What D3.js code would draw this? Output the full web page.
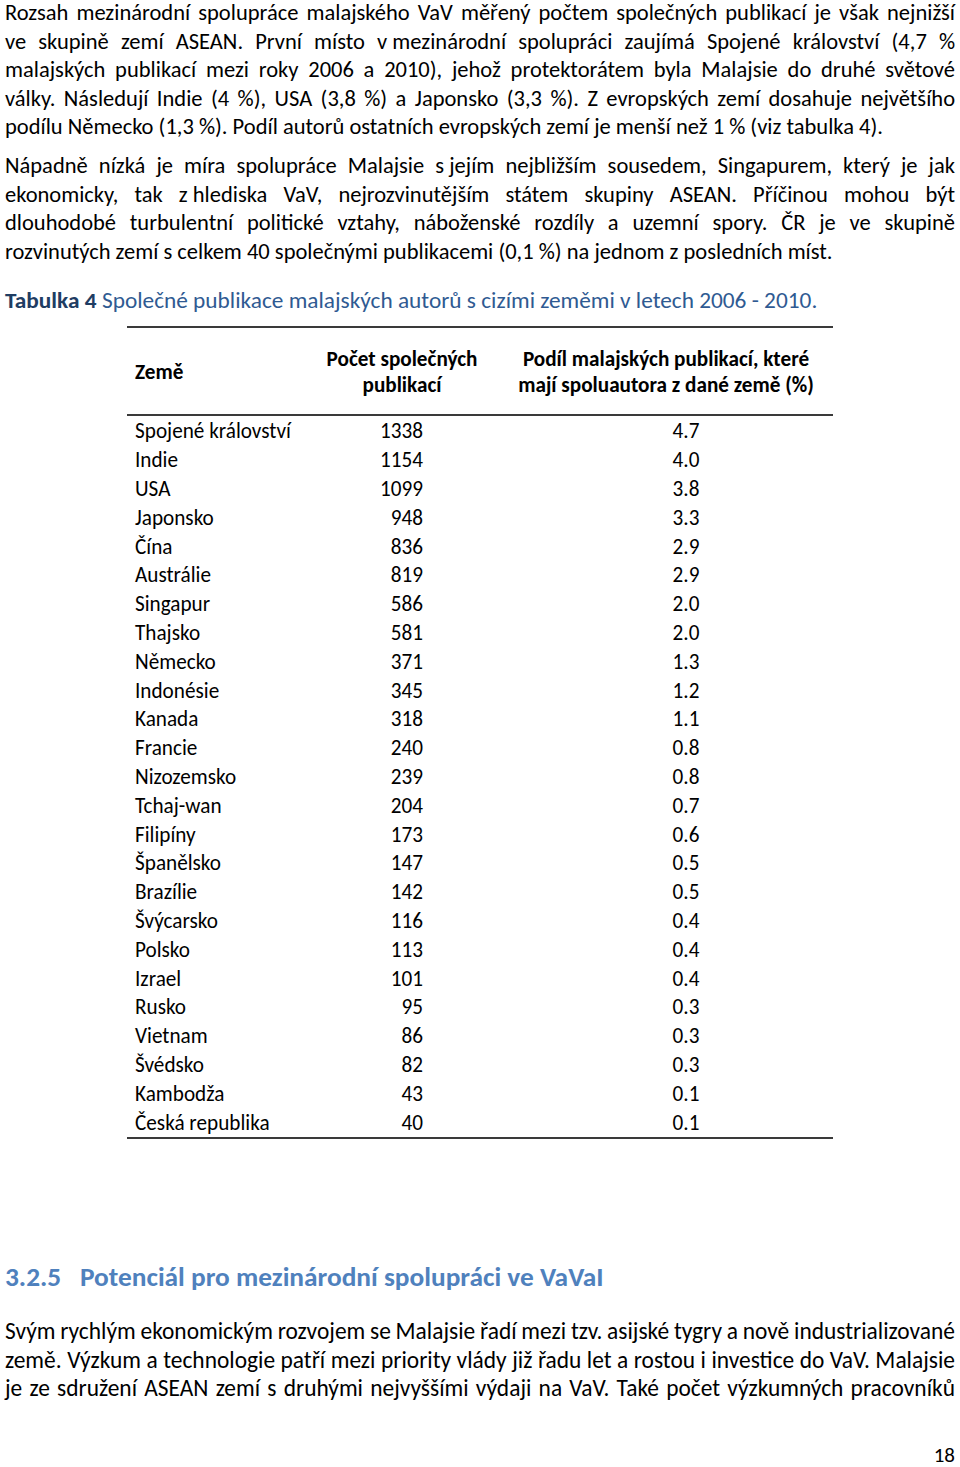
<!DOCTYPE html>
<html>
<head>
<meta charset="utf-8">
<script src="https://cdn.jsdelivr.net/npm/d3@7"></script>
<style>
  html, body { margin: 0; padding: 0; background: #fff; }
  svg { display: block; }
</style>
</head>
<body>
<script>
// ---------------- DATA ----------------
const countries = ["Spojené království","Indie","USA","Japonsko","Čína","Austrálie","Singapur","Thajsko","Německo","Indonésie","Kanada","Francie","Nizozemsko","Tchaj-wan","Filipíny","Španělsko","Brazílie","Švýcarsko","Polsko","Izrael","Rusko","Vietnam","Švédsko","Kambodža","Česká republika"];
const counts = [1338,1154,1099,948,836,819,586,581,371,345,318,240,239,204,173,147,142,116,113,101,95,86,82,43,40];
const shares = [4.7,4.0,3.8,3.3,2.9,2.9,2.0,2.0,1.3,1.2,1.1,0.8,0.8,0.7,0.6,0.5,0.5,0.4,0.4,0.4,0.3,0.3,0.3,0.1,0.1];
const headerCountry = ["Země"];
const headerCount = ["Počet společných","publikací"];
const headerShare = ["Podíl malajských publikací, které","mají spoluautora z dané země (%)"];

const para1 = [
  "Rozsah mezinárodní spolupráce malajského VaV měřený počtem společných publikací je však nejnižší",
  "ve skupině zemí ASEAN. První místo v\u00a0mezinárodní spolupráci zaujímá Spojené království (4,7 %",
  "malajských publikací mezi roky 2006 a 2010), jehož protektorátem byla Malajsie do druhé světové",
  "války. Následují Indie (4 %), USA (3,8 %) a Japonsko (3,3 %). Z evropských zemí dosahuje největšího",
  "podílu Německo (1,3\u00a0%). Podíl autorů ostatních evropských zemí je menší než 1\u00a0% (viz tabulka 4)."
];
const para2 = [
  "Nápadně nízká je míra spolupráce Malajsie s\u00a0jejím nejbližším sousedem, Singapurem, který je jak",
  "ekonomicky, tak z\u00a0hlediska VaV, nejrozvinutějším státem skupiny ASEAN. Příčinou mohou být",
  "dlouhodobé turbulentní politické vztahy, náboženské rozdíly a uzemní spory. ČR je ve skupině",
  "rozvinutých zemí s\u00a0celkem 40 společnými publikacemi (0,1\u00a0%) na jednom z\u00a0posledních míst."
];
const captionLabel = "Tabulka 4";
const captionText = "Společné publikace malajských autorů s cizími zeměmi v letech 2006 - 2010.";
const headingNum = "3.2.5";
const headingText = "Potenciál pro mezinárodní spolupráci ve VaVaI";
const para3 = [
  "Svým rychlým ekonomickým rozvojem se Malajsie řadí mezi tzv. asijské tygry a nově industrializované",
  "země. Výzkum a technologie patří mezi priority vlády již řadu let a rostou i investice do VaV. Malajsie",
  "je ze sdružení ASEAN zemí s druhými nejvyššími výdaji na VaV. Také počet výzkumných pracovníků"
];
const pageNumber = "18";

// ---------------- SETUP ----------------
const FONT = "Carlito, Calibri, Lato, 'Open Sans', sans-serif";
const svg = d3.select("body").append("svg").attr("width", 960).attr("height", 1467);

function measure(str, size, weight) {
  const t = svg.append("text")
    .attr("font-family", FONT).attr("font-size", size)
    .attr("font-weight", weight || "normal").text(str);
  const w = t.node().getComputedTextLength();
  t.remove();
  return w;
}

// Justified paragraph
function paragraph(lines, o) {
  const size = o.size, weight = o.weight || "normal";
  const sp = measure("a a", size, weight) - measure("aa", size, weight);
  const words = lines.map(l => l.split(" "));
  const widths = words.map(ws => ws.map(w => measure(w, size, weight)));
  let s = 1;
  words.forEach((ws, i) => {
    const nat = d3.sum(widths[i]) + (ws.length - 1) * sp * 0.9;
    s = Math.min(s, o.W / nat);
  });
  lines.forEach((l, i) => {
    const justify = i < lines.length - 1 || o.justifyLast;
    const ws = words[i], wd = widths[i];
    const Wl = o.W / s;
    const gap = (justify && ws.length > 1) ? (Wl - d3.sum(wd)) / (ws.length - 1) : sp;
    const t = svg.append("text")
      .attr("transform", `translate(${o.x0},${o.y0 + i * o.lh}) scale(${s},1)`)
      .attr("font-family", FONT).attr("font-size", size).attr("font-weight", weight)
      .attr("fill", o.fill || "#000");
    let x = 0;
    ws.forEach((w, j) => {
      t.append("tspan").attr("x", x).text(w);
      x += wd[j] + gap;
    });
  });
}

// ---------------- BODY TEXT ----------------
paragraph(para1, { x0: 5, W: 950, y0: 20, lh: 28.5, size: 22.5 });
paragraph(para2, { x0: 5, W: 950, y0: 173, lh: 28.5, size: 22.5 });

// Caption
(function () {
  const size = 22;
  const wLab = measure(captionLabel, size, "bold");
  const wSp = measure("a  a", size) - measure("aa", size);
  const wTxt = measure(captionText, size);
  const s = 813 / (wLab + wSp + wTxt);
  const t = svg.append("text")
    .attr("transform", `translate(5,308) scale(${s},1)`)
    .attr("font-family", FONT).attr("font-size", size);
  t.append("tspan").attr("x", 0).attr("font-weight", "bold").attr("fill", "#1f3d63").text(captionLabel);
  t.append("tspan").attr("x", wLab + wSp).attr("fill", "#2f5a92").text(captionText);
})();

// ---------------- TABLE ----------------
const tableLeft = 127, tableRight = 833;
const y = d3.scaleBand().domain(countries).range([417, 1137]);
const col = d3.scaleOrdinal().domain(["name", "count", "share"]).range([135, 423, 686]);
const headCol = d3.scaleOrdinal().domain(["name", "count", "share"]).range([135, 402, 666]);

const TS = 21.5;
const tableScale = Math.min(1, 156 / measure(countries[0], TS));
const tbl = svg.append("g").attr("font-family", FONT).attr("font-size", TS).attr("fill", "#000");

function cell(x, yb, str, anchor, weight) {
  tbl.append("text")
    .attr("transform", `translate(${x},${yb}) scale(${tableScale},1)`)
    .attr("text-anchor", anchor).attr("font-weight", weight || "normal")
    .text(str);
}

// rules
[327, 415, 1138].forEach(yy => {
  svg.append("line").attr("x1", tableLeft).attr("x2", tableRight)
    .attr("y1", yy).attr("y2", yy).attr("stroke", "#3a3a3a").attr("stroke-width", 1.8);
});

// header
cell(headCol("name"), 379, headerCountry[0], "start", "bold");
headerCount.forEach((h, i) => cell(headCol("count"), 366 + i * 26, h, "middle", "bold"));
headerShare.forEach((h, i) => cell(headCol("share"), 366 + i * 26, h, "middle", "bold"));

// rows
const rowBase = c => y(c) + y.bandwidth() / 2 + 7;
countries.forEach((c, i) => {
  cell(col("name"), rowBase(c), c, "start");
  cell(col("count"), rowBase(c), d3.format("d")(counts[i]), "end");
  cell(col("share"), rowBase(c), d3.format(".1f")(shares[i]), "middle");
});

// ---------------- HEADING ----------------
(function () {
  const size = 26;
  const wNum = measure(headingNum, size, "bold");
  const wTxt = measure(headingText, size, "bold");
  const s = 601 / (wNum + 20 + wTxt);
  const t = svg.append("text")
    .attr("transform", `translate(5,1286) scale(${s},1)`)
    .attr("font-family", FONT).attr("font-size", size).attr("font-weight", "bold")
    .attr("fill", "#4f81bd");
  t.append("tspan").attr("x", 0).text(headingNum);
  t.append("tspan").attr("x", 75 / s).text(headingText);
})();

paragraph(para3, { x0: 5, W: 950, y0: 1339, lh: 28.5, size: 24, justifyLast: true });

// page number
svg.append("text").attr("x", 955).attr("y", 1462).attr("text-anchor", "end")
  .attr("font-family", FONT).attr("font-size", 21).text(pageNumber);
</script>
</body>
</html>
